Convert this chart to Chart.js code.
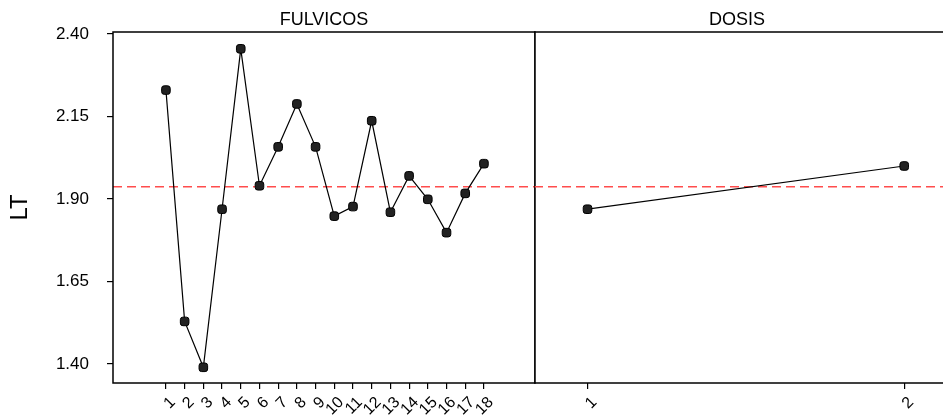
<!DOCTYPE html>
<html>
<head>
<meta charset="utf-8">
<script src="https://cdn.jsdelivr.net/npm/chart.js@4/dist/chart.umd.min.js"></script>
<style>
  body { margin: 0; background: #fff; }
  #wrap { position: relative; width: 943px; height: 416px; overflow: hidden; }
  canvas { position: absolute; top: 0; }
</style>
</head>
<body>
<div id="wrap">
  <canvas id="fulvicos" width="536" height="416" style="left:0"></canvas>
  <canvas id="dosis" width="420" height="416" style="left:534px"></canvas>
</div>
<script>
// main effects data (means of LT)
var fulvicosLevels = [1,2,3,4,5,6,7,8,9,10,11,12,13,14,15,16,17,18];
var fulvicosMeans = [2.230,1.529,1.390,1.869,2.355,1.940,2.058,2.188,2.058,1.848,1.877,2.137,1.860,1.970,1.899,1.798,1.917,2.007];
var dosisLevels = [1,2];
var dosisMeans = [1.869,2.000];
var grandMean = 1.937;
var yTicks = [1.40,1.65,1.90,2.15,2.40];

var FONT = "'Liberation Sans', Arial, sans-serif";
Chart.defaults.font.family = FONT;
Chart.defaults.color = '#000';

// frame, panel title and mean line
var panelPlugin = {
  id: 'panel',
  beforeDatasetsDraw: function(chart) {
    var ctx = chart.ctx, a = chart.chartArea;
    var y = chart.scales.y.getPixelForValue(grandMean);
    ctx.save();
    ctx.strokeStyle = '#ff4d4d';
    ctx.lineWidth = 1.5;
    ctx.setLineDash([9, 5]);
    ctx.beginPath();
    ctx.moveTo(a.left, y);
    ctx.lineTo(a.right, y);
    ctx.stroke();
    ctx.restore();
  },
  afterDraw: function(chart, args, opts) {
    var ctx = chart.ctx, a = chart.chartArea;
    ctx.save();
    ctx.strokeStyle = '#000';
    ctx.lineWidth = 1.5;
    ctx.strokeRect(a.left, a.top, a.right - a.left, a.bottom - a.top);
    ctx.fillStyle = '#000';
    ctx.font = '18px ' + FONT;
    ctx.textAlign = 'center';
    ctx.textBaseline = 'middle';
    ctx.fillText(opts.title, opts.titleX || (a.left + a.right) / 2, a.top - 12);
    ctx.restore();
  }
};

function makePoints(xs, ys) {
  var pts = [];
  for (var i = 0; i < xs.length; i++) pts.push({x: xs[i], y: ys[i]});
  return pts;
}

function panel(id, title, titleX, levels, means, xmin, xmax, yWidth) {
  return new Chart(document.getElementById(id), {
    type: 'line',
    data: {
      datasets: [{
        data: makePoints(levels, means),
        borderColor: '#000',
        borderWidth: 1.2,
        pointStyle: 'rectRounded',
        pointRadius: 5,
        pointBackgroundColor: '#222',
        pointBorderColor: '#000',
        pointBorderWidth: 1,
        tension: 0
      }]
    },
    options: {
      responsive: false,
      animation: false,
      devicePixelRatio: 1,
      layout: { autoPadding: false, padding: { top: 32, left: 0, right: 1, bottom: 0 } },
      plugins: { legend: { display: false }, tooltip: { enabled: false }, panel: { title: title, titleX: titleX } },
      scales: {
        x: {
          type: 'linear',
          min: xmin, max: xmax,
          afterBuildTicks: function(s) { s.ticks = levels.map(function(v) { return {value: v}; }); },
          afterFit: function(s) { s.height = 33; s.paddingLeft = 0; s.paddingRight = 0; },
          grid: { display: true, drawOnChartArea: false, tickLength: 6, color: '#000', lineWidth: 1.2 },
          border: { display: false },
          ticks: { font: { size: 16 }, minRotation: 45, maxRotation: 45, autoSkip: false,
                   padding: 4, labelOffset: 7, color: '#000' }
        },
        y: {
          display: yWidth > 0,
          min: 1.3424, max: 2.406,
          afterBuildTicks: function(s) { s.ticks = yTicks.map(function(v) { return {value: v}; }); },
          afterFit: function(s) { s.width = yWidth; s.paddingTop = 0; s.paddingBottom = 0; },
          grid: { display: true, drawOnChartArea: false, tickLength: 6, color: '#000', lineWidth: 1.2 },
          border: { display: false },
          title: { display: true, text: 'LT', font: { size: 24 }, padding: { top: 6 } },
          ticks: { font: { size: 17 }, padding: 18, color: '#000',
                   callback: function(v) { return Number(v).toFixed(2); } }
        }
      }
    },
    plugins: [panelPlugin]
  });
}

panel('fulvicos', 'FULVICOS', 0, fulvicosLevels, fulvicosMeans, -1.83, 20.73, 113);
panel('dosis', 'DOSIS', 203, dosisLevels, dosisMeans, 0.831, 2.154, 0);
</script>
</body>
</html>
